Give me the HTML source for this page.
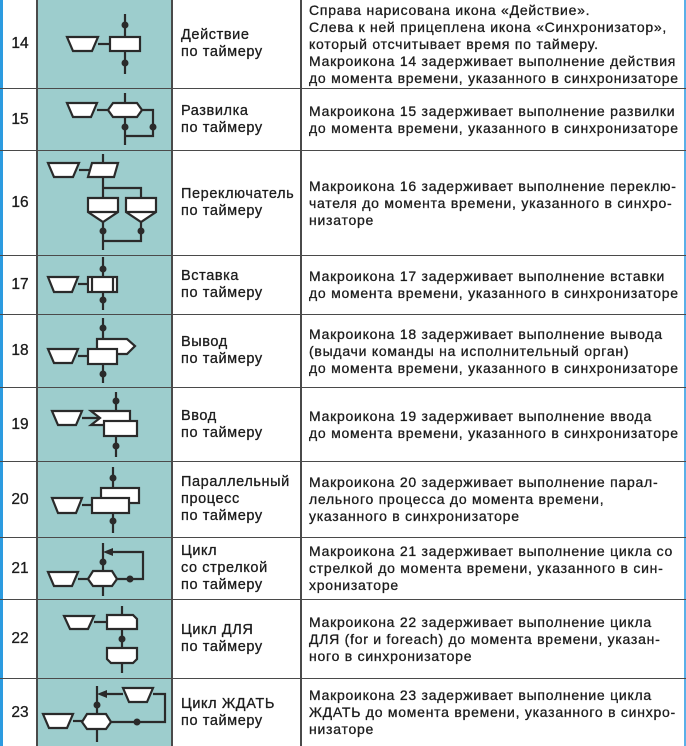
<!DOCTYPE html>
<html><head><meta charset="utf-8"><style>
*{margin:0;padding:0;box-sizing:border-box}
body{width:686px;height:746px;background:#fff;position:relative;overflow:hidden;font-family:"Liberation Sans","DejaVu Sans",sans-serif;color:#1c1c1c}
.r{position:absolute;left:0;width:686px;border-bottom:1.5px solid #4a4a4a}
.n{position:absolute;left:3px;width:34px;top:0;bottom:0;display:flex;align-items:center;justify-content:center;font-size:15.5px;-webkit-text-stroke:0.3px #1c1c1c}
.t{position:absolute;left:181px;width:125px;top:0;bottom:0;display:flex;align-items:center;font-size:14.5px;line-height:17px;letter-spacing:0.6px;-webkit-text-stroke:0.3px #1c1c1c;white-space:nowrap}
.d{position:absolute;left:309px;width:380px;top:0;bottom:0;display:flex;align-items:center;font-size:14px;line-height:17px;letter-spacing:0.75px;white-space:nowrap;-webkit-text-stroke:0.3px #1c1c1c}
</style></head><body>
<div style="position:absolute;left:37px;top:0;width:135px;height:746px;background:#9dcdcd"></div>
<div style="position:absolute;left:0;top:0;width:3px;height:746px;background:#2c9be0"></div>
<div style="position:absolute;left:684px;top:0;width:2px;height:746px;background:#5ab0e8"></div>
<div style="position:absolute;left:36px;top:0;width:1.5px;height:746px;background:#4a4a4a"></div>
<div style="position:absolute;left:171px;top:0;width:1.5px;height:746px;background:#4a4a4a"></div>
<div style="position:absolute;left:300px;top:0;width:1.5px;height:746px;background:#4a4a4a"></div>

<div class="r" style="top:0;height:89px"><div class="n">14</div><div class="t">Действие<br>по таймеру</div><div class="d">Справа нарисована икона «Действие».<br>Слева к ней прицеплена икона «Синхронизатор»,<br>который отсчитывает время по таймеру.<br>Макроикона 14 задерживает выполнение действия<br>до момента времени, указанного в синхронизаторе</div></div>
<div class="r" style="top:89px;height:62px"><div class="n">15</div><div class="t">Развилка<br>по таймеру</div><div class="d">Макроикона 15 задерживает выполнение развилки<br>до момента времени, указанного в синхронизаторе</div></div>
<div class="r" style="top:151px;height:105px"><div class="n">16</div><div class="t">Переключатель<br>по таймеру</div><div class="d">Макроикона 16 задерживает выполнение переклю-<br>чателя до момента времени, указанного в синхро-<br>низаторе</div></div>
<div class="r" style="top:256px;height:59px"><div class="n">17</div><div class="t">Вставка<br>по таймеру</div><div class="d">Макроикона 17 задерживает выполнение вставки<br>до момента времени, указанного в синхронизаторе</div></div>
<div class="r" style="top:315px;height:73px"><div class="n">18</div><div class="t">Вывод<br>по таймеру</div><div class="d">Макроикона 18 задерживает выполнение вывода<br>(выдачи команды на исполнительный орган)<br>до момента времени, указанного в синхронизаторе</div></div>
<div class="r" style="top:388px;height:74px"><div class="n">19</div><div class="t">Ввод<br>по таймеру</div><div class="d">Макроикона 19 задерживает выполнение ввода<br>до момента времени, указанного в синхронизаторе</div></div>
<div class="r" style="top:462px;height:76px"><div class="n">20</div><div class="t">Параллельный<br>процесс<br>по таймеру</div><div class="d">Макроикона 20 задерживает выполнение парал-<br>лельного процесса до момента времени,<br>указанного в синхронизаторе</div></div>
<div class="r" style="top:538px;height:62px"><div class="n">21</div><div class="t">Цикл<br>со стрелкой<br>по таймеру</div><div class="d">Макроикона 21 задерживает выполнение цикла со<br>стрелкой до момента времени, указанного в син-<br>хронизаторе</div></div>
<div class="r" style="top:600px;height:79px"><div class="n">22</div><div class="t">Цикл ДЛЯ<br>по таймеру</div><div class="d">Макроикона 22 задерживает выполнение цикла<br>ДЛЯ (for и foreach) до момента времени, указан-<br>ного в синхронизаторе</div></div>
<div class="r" style="top:679px;height:67px;border-bottom:none"><div class="n">23</div><div class="t">Цикл ЖДАТЬ<br>по таймеру</div><div class="d">Макроикона 23 задерживает выполнение цикла<br>ЖДАТЬ до момента времени, указанного в синхро-<br>низаторе</div></div>

<svg style="position:absolute;left:0;top:0" width="686" height="746" fill="none" stroke="#2a2a2a" stroke-width="2.2">
<g fill="#fff">
<line x1="125" y1="14" x2="125" y2="74"/><line x1="98" y1="44" x2="110" y2="44"/>
<polygon points="67,37 98,37 92,51 73,51"/><rect x="110" y="37" width="30" height="14"/>
<line x1="125" y1="93" x2="125" y2="145"/><line x1="97" y1="110" x2="108" y2="110"/>
<polyline fill="none" points="142,110 153,110 153,136 125,136"/>
<polygon points="67,103 97,103 91,117 73,117"/><polygon points="108,110 113,103 137,103 142,110 137,117 113,117"/>
<line x1="103" y1="154" x2="103" y2="250"/><line x1="79" y1="170" x2="90" y2="170"/>
<polyline fill="none" points="103,188 141,188 141,198"/><polyline fill="none" points="103,241 141,241 141,222"/>
<polygon points="48,163 79,163 73,177 54,177"/><polygon points="92,163 118,163 114,177 88,177"/>
<polygon points="88,198 118,198 118,212 103,222 88,212"/><line x1="88" y1="212" x2="118" y2="212"/>
<polygon points="126,198 156,198 156,212 141,222 126,212"/><line x1="126" y1="212" x2="156" y2="212"/>
<line x1="103" y1="257" x2="103" y2="310"/><line x1="78" y1="284" x2="88" y2="284"/>
<polygon points="48,277 78,277 72,292 54,292"/><rect x="88" y="277" width="29" height="15"/>
<line x1="92" y1="277" x2="92" y2="292"/><line x1="113" y1="277" x2="113" y2="292"/>
<line x1="103" y1="318" x2="103" y2="383"/><line x1="78" y1="356" x2="88" y2="356"/>
<polygon points="97,339 127,339 135,346 127,354 97,354"/>
<polygon points="48,349 78,349 72,363 54,363"/><rect x="88" y="349" width="29" height="15"/>
<line x1="116" y1="392" x2="116" y2="457"/><line x1="82" y1="418" x2="100" y2="418"/>
<polygon points="52,411 82,411 76,425 58,425"/>
<polygon points="91,411 130,411 130,425 91,425 100,418"/><rect x="104" y="421" width="33" height="15"/>
<line x1="113" y1="467" x2="113" y2="533"/><line x1="82" y1="505" x2="92" y2="505"/>
<polygon points="52,498 82,498 76,513 58,513"/>
<rect x="101" y="488" width="38" height="15"/><rect x="92" y="498" width="37" height="15"/>
<line x1="103" y1="543" x2="103" y2="596"/><line x1="78" y1="579" x2="88" y2="579"/>
<polyline fill="none" points="117,579 143,579 143,552 108,552"/>
<polygon fill="#2a2a2a" stroke="none" points="103,552 113,548 113,556"/>
<polygon points="48,572 78,572 72,586 54,586"/><polygon points="88,579 93,571 112,571 117,579 112,586 93,586"/>
<line x1="122" y1="606" x2="122" y2="673"/><line x1="94" y1="622" x2="107" y2="622"/>
<polygon points="64,616 94,616 88,629 70,629"/>
<polygon points="107,615 133,615 137,619 137,629 107,629"/>
<polygon points="107,648 137,648 137,659 133,663 111,663 107,659"/>
<line x1="97" y1="686" x2="97" y2="742"/><line x1="73" y1="721" x2="82" y2="721"/>
<line x1="102" y1="694" x2="123" y2="694"/>
<polygon fill="#2a2a2a" stroke="none" points="97,694 107,690 107,698"/>
<polyline fill="none" points="153,694 165,694 165,722 111,722"/>
<polygon points="123,688 153,688 147,702 129,702"/>
<polygon points="43,714 73,714 67,728 49,728"/><polygon points="82,722 87,714 106,714 111,722 106,729 87,729"/>
</g>
<g fill="#2a2a2a" stroke="none">
<circle cx="125" cy="25" r="3.5"/><circle cx="125" cy="63" r="3.5"/>
<circle cx="125" cy="127" r="3.5"/><circle cx="153" cy="127" r="3.5"/>
<circle cx="103" cy="231" r="3.5"/><circle cx="141" cy="231" r="3.5"/>
<circle cx="103" cy="269" r="3.5"/><circle cx="103" cy="300" r="3.5"/>
<circle cx="103" cy="328" r="3.5"/><circle cx="103" cy="374" r="3.5"/>
<circle cx="116" cy="401" r="3.5"/><circle cx="116" cy="446" r="3.5"/>
<circle cx="113" cy="478" r="3.5"/><circle cx="113" cy="521" r="3.5"/>
<circle cx="103" cy="562" r="3.5"/><circle cx="130" cy="579" r="3.5"/>
<circle cx="122" cy="639" r="3.5"/>
<circle cx="97" cy="705" r="3.5"/><circle cx="137" cy="722" r="3.5"/>
</g>
</svg>
</body></html>
